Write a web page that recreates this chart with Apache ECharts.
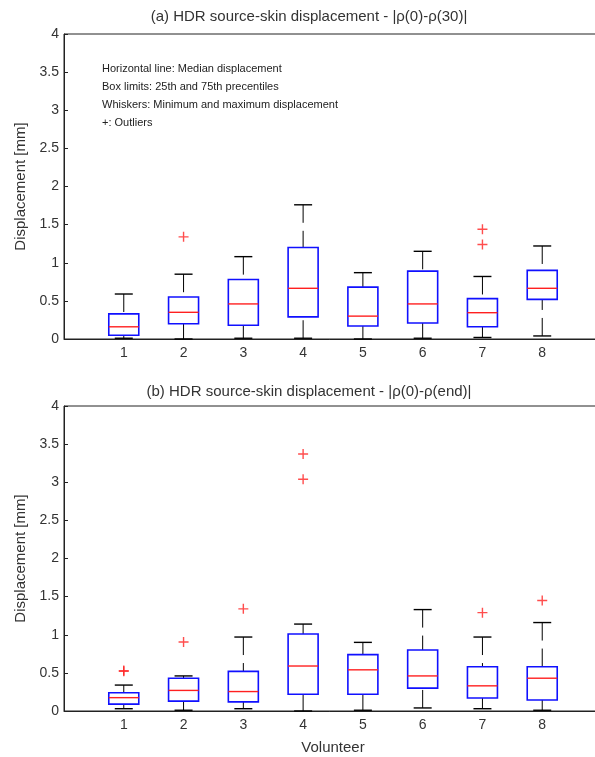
<!DOCTYPE html>
<html>
<head>
<meta charset="utf-8">
<script src="https://cdn.jsdelivr.net/npm/echarts@6/dist/echarts.min.js"></script>
<style>
  html, body { margin: 0; padding: 0; background: #fff; }
  #chart { width: 595px; height: 757px; }
</style>
</head>
<body>
<div id="chart"></div>
<script>
// volunteers 1..8
const volunteers = [1, 2, 3, 4, 5, 6, 7, 8]
const yTicks = [0, 0.5, 1, 1.5, 2, 2.5, 3, 3.5, 4]

// (a) |p(0)-p(30)|
const aMin = [0.01, 0.0, 0.01, 0.01, 0.0, 0.01, 0.02, 0.04]
const aQ1 = [0.05, 0.2, 0.18, 0.29, 0.17, 0.21, 0.16, 0.52]
const aMedian = [0.16, 0.35, 0.46, 0.665, 0.3, 0.46, 0.345, 0.665]
const aQ3 = [0.33, 0.55, 0.78, 1.2, 0.68, 0.89, 0.53, 0.9]
const aMax = [0.59, 0.85, 1.08, 1.76, 0.87, 1.15, 0.82, 1.22]
const aOutliers = [[2, 1.34], [7, 1.44], [7, 1.24]]

// (b) |p(0)-p(end)|
const bMin = [0.03, 0.01, 0.03, 0.0, 0.01, 0.04, 0.03, 0.01]
const bQ1 = [0.09, 0.13, 0.12, 0.22, 0.22, 0.3, 0.17, 0.145]
const bMedian = [0.175, 0.27, 0.255, 0.59, 0.54, 0.46, 0.33, 0.43]
const bQ3 = [0.24, 0.43, 0.52, 1.01, 0.74, 0.8, 0.58, 0.58]
const bMax = [0.34, 0.46, 0.97, 1.14, 0.9, 1.33, 0.97, 1.16]
const bOutliers = [[1, 0.52], [1, 0.53], [2, 0.905], [3, 1.34], [4, 3.37], [4, 3.04], [7, 1.29], [8, 1.45]]

const boxColor = '#1010ff'
const medianColor = '#ff2020'
const axisColor = '#222'
const textColor = '#333'
const font = 'Liberation Sans, Arial, sans-serif'

const boxHalf = 15
const capHalf = 9

const buildBoxes = (mins, q1s, meds, q3s, maxs) =>
  volunteers.map((v, i) => [v, mins[i], q1s[i], meds[i], q3s[i], maxs[i]])

const renderBox = (params, api) => {
  const x = api.value(0)
  const pMin = api.coord([x, api.value(1)])
  const pQ1 = api.coord([x, api.value(2)])
  const pMed = api.coord([x, api.value(3)])
  const pQ3 = api.coord([x, api.value(4)])
  const pMax = api.coord([x, api.value(5)])
  const cx = pMin[0]
  const dash = { stroke: '#000', lineWidth: 1, lineDash: [18, 8] }
  const solid = { stroke: '#000', lineWidth: 1.4 }
  return {
    type: 'group',
    children: [
      { type: 'line', shape: { x1: cx, y1: pMax[1], x2: cx, y2: pQ3[1] }, style: dash },
      { type: 'line', shape: { x1: cx, y1: pMin[1], x2: cx, y2: pQ1[1] }, style: dash },
      { type: 'line', shape: { x1: cx - capHalf, y1: pMax[1], x2: cx + capHalf, y2: pMax[1] }, style: solid },
      { type: 'line', shape: { x1: cx - capHalf, y1: pMin[1], x2: cx + capHalf, y2: pMin[1] }, style: solid },
      {
        type: 'rect',
        shape: { x: cx - boxHalf, y: pQ3[1], width: boxHalf * 2, height: pQ1[1] - pQ3[1] },
        style: { fill: 'none', stroke: boxColor, lineWidth: 1.6 }
      },
      { type: 'line', shape: { x1: cx - boxHalf, y1: pMed[1], x2: cx + boxHalf, y2: pMed[1] }, style: { stroke: medianColor, lineWidth: 1.4 } },
    ]
  }
}

const plusSymbol = 'path://M4.3,0H5.7V10H4.3ZM0,4.3H10V5.7H0Z'

const makeGrid = (top) => ({
  left: 64, top: top, width: 538, height: 305,
  outerBoundsMode: 'none', containLabel: false,
  show: true, borderColor: axisColor, borderWidth: 1, backgroundColor: '#fff'
})

const makeX = (idx, withName) => ({
  type: 'value', gridIndex: idx, min: 0, max: 9, interval: 1,
  axisLine: { onZero: false, lineStyle: { color: axisColor, width: 1 } },
  axisTick: { show: false },
  splitLine: { show: false },
  axisLabel: {
    color: textColor, fontFamily: font, fontSize: 14, margin: 7,
    formatter: v => (v >= 1 && v <= 8 ? String(v) : '')
  },
  name: withName ? 'Volunteer' : '',
  nameLocation: 'middle', nameGap: 29,
  nameTextStyle: { color: textColor, fontFamily: font, fontSize: 15 }
})

const makeY = (idx, pos) => ({
  type: 'value', gridIndex: idx, position: pos, min: yTicks[0], max: yTicks[yTicks.length - 1], interval: 0.5,
  axisLine: { show: true, lineStyle: { color: axisColor, width: 1 } },
  axisTick: { show: true, inside: true, length: 4, lineStyle: { color: axisColor } },
  splitLine: { show: false },
  axisLabel: { show: pos === 'left', color: textColor, fontFamily: font, fontSize: 14, margin: 5 },
  name: pos === 'left' ? 'Displacement [mm]' : '',
  nameLocation: 'middle', nameGap: 31, nameRotate: 90,
  nameTextStyle: { color: textColor, fontFamily: font, fontSize: 15 }
})

const chart = echarts.init(document.getElementById('chart'))
chart.setOption({
  animation: false,
  backgroundColor: '#fff',
  grid: [makeGrid(34), makeGrid(406)],
  xAxis: [makeX(0, false), makeX(1, true)],
  yAxis: [makeY(0, 'left'), makeY(0, 'right'), makeY(1, 'left'), makeY(1, 'right')],
  graphic: [
    {
      type: 'text', x: 309, y: 17,
      style: { text: '(a) HDR source-skin displacement - |ρ(0)-ρ(30)|', fill: textColor, font: '15px ' + font, align: 'center', verticalAlign: 'middle' }
    },
    {
      type: 'text', x: 309, y: 392,
      style: { text: '(b) HDR source-skin displacement - |ρ(0)-ρ(end)|', fill: textColor, font: '15px ' + font, align: 'center', verticalAlign: 'middle' }
    },
    {
      type: 'text', left: 102, top: 60,
      style: {
        text: 'Horizontal line: Median displacement\nBox limits: 25th and 75th precentiles\nWhiskers: Minimum and maximum displacement\n+: Outliers',
        fill: '#222', font: '11px ' + font, lineHeight: 18
      }
    }
  ],
  series: [
    {
      type: 'custom', xAxisIndex: 0, yAxisIndex: 0,
      data: buildBoxes(aMin, aQ1, aMedian, aQ3, aMax),
      encode: { x: 0, y: [1, 2, 3, 4, 5] },
      renderItem: renderBox
    },
    {
      type: 'custom', xAxisIndex: 1, yAxisIndex: 2,
      data: buildBoxes(bMin, bQ1, bMedian, bQ3, bMax),
      encode: { x: 0, y: [1, 2, 3, 4, 5] },
      renderItem: renderBox
    },
    {
      type: 'scatter', xAxisIndex: 0, yAxisIndex: 0,
      symbol: plusSymbol, symbolSize: 10,
      itemStyle: { color: medianColor },
      data: aOutliers
    },
    {
      type: 'scatter', xAxisIndex: 1, yAxisIndex: 2,
      symbol: plusSymbol, symbolSize: 10,
      itemStyle: { color: medianColor },
      data: bOutliers
    }
  ]
})
</script>
</body>
</html>
